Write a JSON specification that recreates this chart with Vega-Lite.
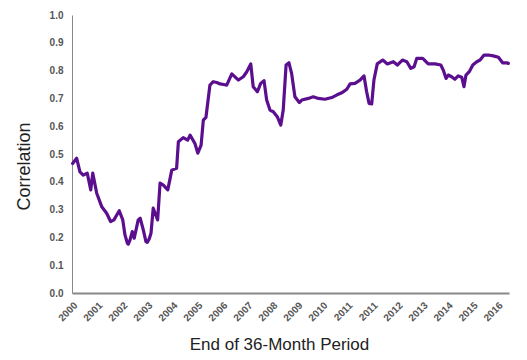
{
  "$schema": "https://vega.github.io/schema/vega-lite/v6.json",
  "width": 437,
  "height": 278,
  "autosize": "none",
  "padding": {"left": 72, "top": 15, "right": 18, "bottom": 67},
  "background": "white",
  "config": {"view": {"stroke": null}, "font": "Liberation Sans"},
  "data": {"values": [
    {"t": 0.3, "corr": 0.466}, {"t": 2.1, "corr": 0.485}, {"t": 3.6, "corr": 0.436}, {"t": 5.1, "corr": 0.424},
    {"t": 6.9, "corr": 0.431}, {"t": 8.5, "corr": 0.371}, {"t": 9.4, "corr": 0.431}, {"t": 11.2, "corr": 0.359},
    {"t": 13.5, "corr": 0.31}, {"t": 15.7, "corr": 0.287}, {"t": 17.5, "corr": 0.257}, {"t": 19.0, "corr": 0.263},
    {"t": 21.4, "corr": 0.296}, {"t": 23.0, "corr": 0.263}, {"t": 24.0, "corr": 0.209}, {"t": 25.1, "corr": 0.179},
    {"t": 25.5, "corr": 0.176}, {"t": 26.3, "corr": 0.191}, {"t": 27.3, "corr": 0.221}, {"t": 28.2, "corr": 0.197},
    {"t": 30.0, "corr": 0.263}, {"t": 30.9, "corr": 0.269}, {"t": 32.3, "corr": 0.227}, {"t": 33.5, "corr": 0.185},
    {"t": 34.1, "corr": 0.182}, {"t": 35.0, "corr": 0.195}, {"t": 35.8, "corr": 0.215}, {"t": 36.8, "corr": 0.305},
    {"t": 38.8, "corr": 0.263}, {"t": 39.9, "corr": 0.395}, {"t": 41.4, "corr": 0.388}, {"t": 43.4, "corr": 0.371},
    {"t": 45.2, "corr": 0.442}, {"t": 47.4, "corr": 0.449}, {"t": 48.2, "corr": 0.544}, {"t": 50.4, "corr": 0.559},
    {"t": 52.4, "corr": 0.55}, {"t": 53.5, "corr": 0.568}, {"t": 55.7, "corr": 0.538}, {"t": 57.0, "corr": 0.503},
    {"t": 58.5, "corr": 0.532}, {"t": 59.5, "corr": 0.622}, {"t": 60.7, "corr": 0.632}, {"t": 62.5, "corr": 0.748},
    {"t": 64.0, "corr": 0.76}, {"t": 65.6, "corr": 0.757}, {"t": 67.1, "corr": 0.752}, {"t": 69.3, "corr": 0.749},
    {"t": 70.1, "corr": 0.748}, {"t": 72.4, "corr": 0.788}, {"t": 75.4, "corr": 0.766}, {"t": 77.6, "corr": 0.778},
    {"t": 79.2, "corr": 0.796}, {"t": 81.0, "corr": 0.824}, {"t": 82.1, "corr": 0.742}, {"t": 84.0, "corr": 0.724},
    {"t": 85.5, "corr": 0.754}, {"t": 87.0, "corr": 0.764}, {"t": 88.2, "corr": 0.694}, {"t": 89.7, "corr": 0.658},
    {"t": 91.2, "corr": 0.652}, {"t": 93.0, "corr": 0.634}, {"t": 94.6, "corr": 0.604}, {"t": 95.7, "corr": 0.658},
    {"t": 97.0, "corr": 0.82}, {"t": 98.3, "corr": 0.828}, {"t": 99.5, "corr": 0.79}, {"t": 101.0, "corr": 0.706},
    {"t": 103.0, "corr": 0.685}, {"t": 104.1, "corr": 0.694}, {"t": 107.1, "corr": 0.7}, {"t": 109.3, "corr": 0.706},
    {"t": 111.6, "corr": 0.7}, {"t": 114.6, "corr": 0.697}, {"t": 117.7, "corr": 0.703}, {"t": 119.9, "corr": 0.712},
    {"t": 122.2, "corr": 0.72}, {"t": 124.5, "corr": 0.733}, {"t": 126.0, "corr": 0.752}, {"t": 128.2, "corr": 0.754},
    {"t": 130.5, "corr": 0.766}, {"t": 132.3, "corr": 0.781}, {"t": 133.5, "corr": 0.724}, {"t": 134.6, "corr": 0.682},
    {"t": 135.8, "corr": 0.68}, {"t": 136.8, "corr": 0.766}, {"t": 138.3, "corr": 0.824}, {"t": 140.8, "corr": 0.838},
    {"t": 142.9, "corr": 0.824}, {"t": 145.6, "corr": 0.832}, {"t": 147.4, "corr": 0.82}, {"t": 149.7, "corr": 0.838},
    {"t": 151.7, "corr": 0.832}, {"t": 153.5, "corr": 0.808}, {"t": 155.0, "corr": 0.814}, {"t": 156.2, "corr": 0.844},
    {"t": 158.9, "corr": 0.844}, {"t": 161.4, "corr": 0.824}, {"t": 164.5, "corr": 0.824}, {"t": 167.1, "corr": 0.82},
    {"t": 168.2, "corr": 0.802}, {"t": 169.5, "corr": 0.772}, {"t": 170.5, "corr": 0.784}, {"t": 172.0, "corr": 0.778},
    {"t": 173.5, "corr": 0.769}, {"t": 175.0, "corr": 0.781}, {"t": 176.6, "corr": 0.776}, {"t": 177.6, "corr": 0.742},
    {"t": 178.5, "corr": 0.784}, {"t": 180.0, "corr": 0.796}, {"t": 181.6, "corr": 0.82}, {"t": 183.4, "corr": 0.832},
    {"t": 184.9, "corr": 0.838}, {"t": 186.7, "corr": 0.856}, {"t": 188.6, "corr": 0.856}, {"t": 190.9, "corr": 0.853},
    {"t": 193.2, "corr": 0.848}, {"t": 195.1, "corr": 0.828}, {"t": 197.0, "corr": 0.828}, {"t": 197.7, "corr": 0.826}
  ]},
  "mark": {"type": "line", "color": "#5b0f8f", "strokeWidth": 3.2, "strokeJoin": "round", "strokeCap": "round"},
  "encoding": {
    "x": {
      "field": "t", "type": "quantitative",
      "scale": {"domain": [0, 198], "nice": false, "zero": false},
      "axis": {
        "title": "End of 36-Month Period",
        "titleFont": "Liberation Sans", "titleFontSize": 17, "titleFontWeight": "normal", "titleColor": "#222",
        "titleX": 207, "titleY": 56, "titleBaseline": "alphabetic", "titleAlign": "center",
        "values": [0, 11.3333, 22.6667, 34, 45.3333, 56.6667, 68, 79.3333, 90.6667, 102, 113.3333, 124.6667, 136, 147.3333, 158.6667, 170, 181.3333, 192.6667],
        "labelExpr": "['2000','2001','2002','2003','2004','2005','2006','2007','2008','2009','2010','2011','2011','2012','2013','2014','2015','2016'][round(datum.value*3/34)]",
        "labelAngle": -45, "labelAlign": "right", "labelBaseline": "top",
        "labelFontSize": 10, "labelFontWeight": "bold", "labelColor": "#555", "labelPadding": 7,
        "labelOverlap": false, "labelFlush": false,
        "ticks": false, "grid": false,
        "domainColor": "#888", "domainWidth": 2
      }
    },
    "y": {
      "field": "corr", "type": "quantitative",
      "scale": {"domain": [0, 1], "nice": false},
      "axis": {
        "title": "Correlation",
        "titleFont": "Liberation Sans", "titleFontSize": 18, "titleFontWeight": "normal", "titleColor": "#222",
        "titleY": 151, "titlePadding": 16,
        "values": [0, 0.1, 0.2, 0.3, 0.4, 0.5, 0.6, 0.7, 0.8, 0.9, 1.0],
        "format": ".1f",
        "labelFontSize": 10, "labelFontWeight": "bold", "labelColor": "#555", "labelPadding": 9,
        "ticks": false, "grid": false,
        "domainColor": "#888", "domainWidth": 1
      }
    }
  }
}
